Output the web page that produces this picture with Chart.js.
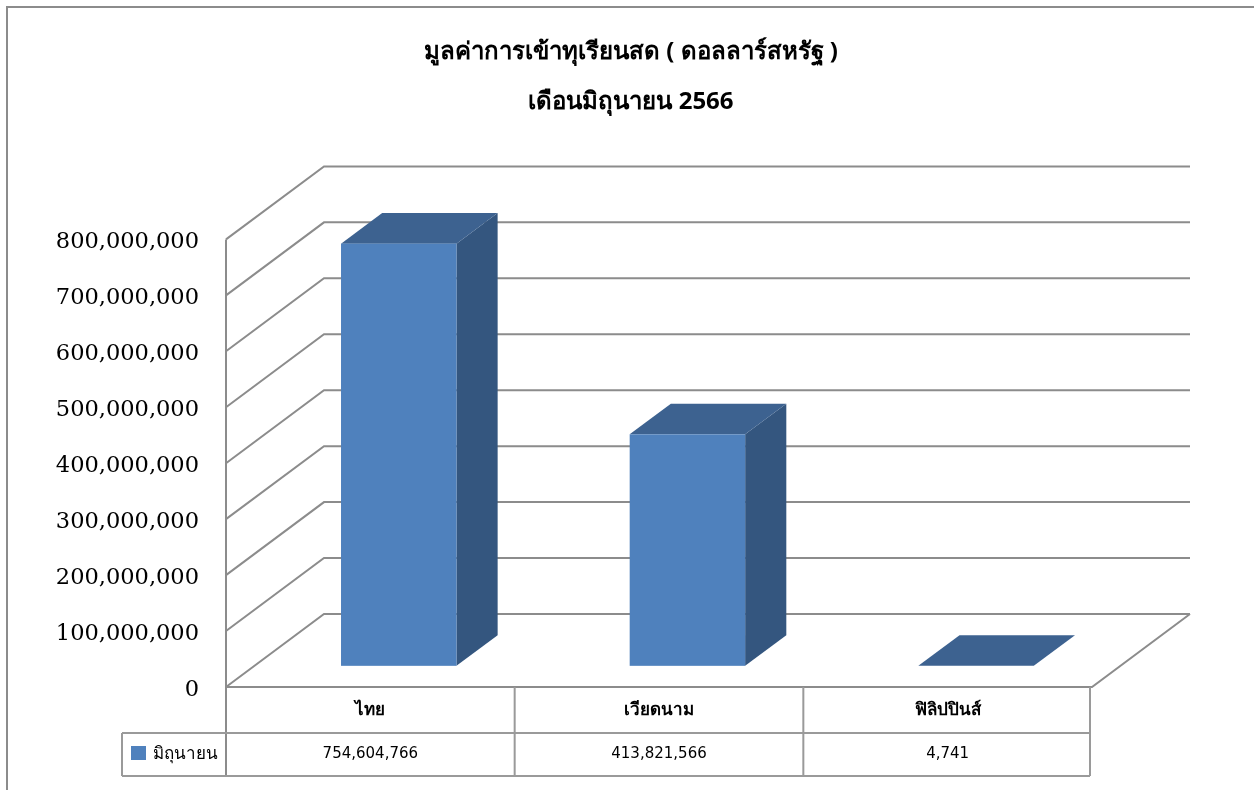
<!DOCTYPE html>
<html>
<head>
<meta charset="utf-8">
<script src="https://cdn.jsdelivr.net/npm/chart.js@4"></script>
<style>
  html, body { margin: 0; padding: 0; background: #fff; }
  #wrap { width: 1254px; height: 790px; position: relative; }
</style>
</head>
<body>
<div id="wrap"><canvas id="myChart" width="1254" height="790"></canvas></div>
<script>
// ข้อมูล
const categories = ['ไทย', 'เวียดนาม', 'ฟิลิปปินส์'];
const seriesName = 'มิถุนายน';
const values = [754604766, 413821566, 4741];
const yTickValues = [0, 100000000, 200000000, 300000000, 400000000, 500000000, 600000000, 700000000, 800000000];
const titleLines = ['มูลค่าการเข้าทุเรียนสด ( ดอลลาร์สหรัฐ )', 'เดือนมิถุนายน 2566'];

const DX = 98, DY = 73; // ความลึก 3 มิติ
const GRID = '#8c8c8c';
const FRONT = '#4f81bd', TOP = '#3d6290', SIDE = '#34567f';
const THAI_FONT = 'Tahoma, "Noto Sans", sans-serif';

const fmt = v => v.toLocaleString('en-US');

const box3d = {
  id: 'box3d',
  beforeDraw(chart) {
    const ctx = chart.ctx;
    ctx.save();
    ctx.fillStyle = '#fff';
    ctx.fillRect(0, 0, chart.width, chart.height);
    ctx.strokeStyle = '#8c8c8c';
    ctx.lineWidth = 2;
    ctx.beginPath();
    ctx.moveTo(7, chart.height);
    ctx.lineTo(7, 7);
    ctx.lineTo(chart.width, 7);
    ctx.stroke();
    ctx.restore();
  },
  beforeDatasetsDraw(chart) {
    const ctx = chart.ctx;
    const a = chart.chartArea;
    const y = chart.scales.y;
    ctx.save();
    ctx.strokeStyle = GRID;
    ctx.lineWidth = 2;
    // เส้นกริดผนังด้านข้างและด้านหลัง
    yTickValues.forEach(v => {
      const py = y.getPixelForValue(v);
      ctx.beginPath();
      ctx.moveTo(a.left, py);
      ctx.lineTo(a.left + DX, py - DY);
      ctx.lineTo(a.right + DX, py - DY);
      ctx.stroke();
    });
    // พื้น
    ctx.beginPath();
    ctx.moveTo(a.left, a.bottom);
    ctx.lineTo(a.right, a.bottom);
    ctx.lineTo(a.right + DX, a.bottom - DY);
    ctx.stroke();
    // แกน y ด้านหน้า
    ctx.beginPath();
    ctx.moveTo(a.left, a.top);
    ctx.lineTo(a.left, 776);
    ctx.stroke();
    ctx.restore();
  },
  afterDatasetsDraw(chart) {
    const ctx = chart.ctx;
    const meta = chart.getDatasetMeta(0);
    const f0 = 0.29, f1 = 0.71;
    const ox = f0 * DX, oy = f0 * DY;
    const bx = (f1 - f0) * DX, by = (f1 - f0) * DY;
    ctx.save();
    meta.data.forEach(el => {
      const p = el.getProps(['x', 'y', 'base', 'width'], true);
      const L = p.x - p.width / 2 + ox, R = p.x + p.width / 2 + ox;
      const T = p.y - oy, B = p.base - oy;
      // ด้านข้าง
      ctx.fillStyle = SIDE;
      ctx.beginPath();
      ctx.moveTo(R, T); ctx.lineTo(R + bx, T - by); ctx.lineTo(R + bx, B - by); ctx.lineTo(R, B);
      ctx.closePath(); ctx.fill();
      // ด้านบน
      ctx.fillStyle = TOP;
      ctx.beginPath();
      ctx.moveTo(L, T); ctx.lineTo(L + bx, T - by); ctx.lineTo(R + bx, T - by); ctx.lineTo(R, T);
      ctx.closePath(); ctx.fill();
      // ด้านหน้า
      ctx.fillStyle = FRONT;
      ctx.fillRect(L, T, R - L, B - T);
    });
    ctx.restore();
  },
  afterDraw(chart) {
    // ตารางข้อมูล
    const ctx = chart.ctx;
    const a = chart.chartArea;
    const x = chart.scales.x;
    const colW = (a.right - a.left) / categories.length;
    const r1 = a.bottom, r2 = 733, r3 = 776, legL = 122;
    ctx.save();
    ctx.strokeStyle = '#9a9a9a';
    ctx.lineWidth = 2;
    ctx.beginPath();
    for (let i = 1; i <= categories.length; i++) {
      const cx = a.left + i * colW - (i === categories.length ? 2 : 0);
      ctx.moveTo(cx, r1); ctx.lineTo(cx, r3);
    }
    ctx.moveTo(legL, r2); ctx.lineTo(a.right - 2, r2);
    ctx.moveTo(legL, r3); ctx.lineTo(a.right - 2, r3);
    ctx.moveTo(legL, r2); ctx.lineTo(legL, r3);
    ctx.stroke();

    ctx.fillStyle = '#000';
    ctx.textAlign = 'center';
    ctx.textBaseline = 'middle';
    categories.forEach((c, i) => {
      const cx = x.getPixelForValue(i);
      ctx.font = 'bold 17px ' + THAI_FONT;
      ctx.fillText(c, cx, (r1 + r2) / 2);
      ctx.font = '15px "DejaVu Sans", sans-serif';
      ctx.fillText(fmt(values[i]), cx, (r2 + r3) / 2);
    });
    ctx.fillStyle = FRONT;
    ctx.fillRect(131, 746, 15, 14);
    ctx.fillStyle = '#000';
    ctx.textAlign = 'left';
    ctx.font = '17px ' + THAI_FONT;
    ctx.fillText(seriesName, 153, (r2 + r3) / 2);
    ctx.restore();
  }
};

new Chart(document.getElementById('myChart'), {
  type: 'bar',
  data: {
    labels: categories,
    datasets: [{
      label: seriesName,
      data: values,
      backgroundColor: 'rgba(0,0,0,0)',
      borderWidth: 0,
      categoryPercentage: 1,
      barPercentage: 0.4,
      yAxisID: 'y'
    }]
  },
  options: {
    responsive: false,
    animation: false,
    devicePixelRatio: 1,
    layout: { padding: { left: 8, right: 0, top: 0, bottom: 0 } },
    plugins: {
      legend: { display: false },
      tooltip: { enabled: false },
      title: {
        display: true,
        text: titleLines,
        color: '#000',
        font: { family: THAI_FONT, size: 24, weight: 'bold', lineHeight: 2.05 },
        padding: { top: 28, bottom: 113 }
      }
    },
    scales: {
      x: {
        ticks: { display: false },
        grid: { display: false },
        border: { display: false },
        afterFit: s => { s.height = 103; }
      },
      y: {
        min: 0,
        max: 800000000,
        ticks: {
          stepSize: 100000000,
          padding: 27,
          labelOffset: 3,
          color: '#000',
          font: { family: '"DejaVu Serif", serif', size: 22.5 },
          callback: v => fmt(v)
        },
        grid: { display: false, drawTicks: false },
        border: { display: false },
        afterFit: s => { s.width = 218; }
      },
      // แกนว่างด้านขวา เพื่อเว้นที่ให้ผนังด้านหลัง
      yR: {
        position: 'right',
        ticks: { display: false },
        grid: { display: false, drawTicks: false },
        border: { display: false },
        afterFit: s => { s.width = 162; }
      }
    }
  },
  plugins: [box3d]
});
</script>
</body>
</html>
